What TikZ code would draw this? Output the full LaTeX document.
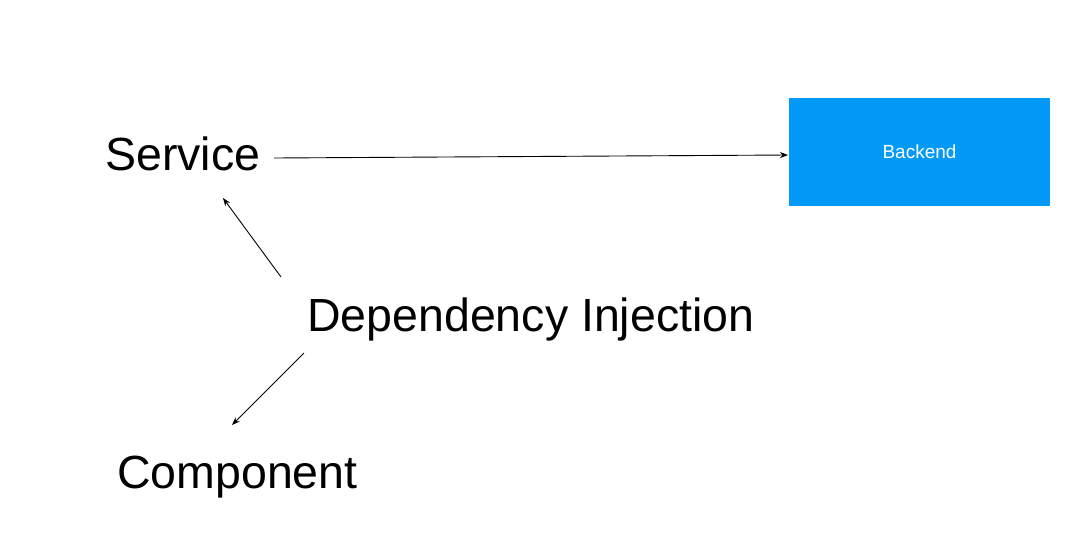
\documentclass[tikz,border=0pt]{standalone}
\usepackage{fontspec}
\setmainfont{Liberation Sans}
\usetikzlibrary{arrows.meta}
\definecolor{boxblue}{HTML}{0399F6}
\begin{document}
\begin{tikzpicture}[x=1pt,y=-1pt,
  big/.style={anchor=base west,inner sep=0pt,font=\fontsize{46.5}{50}\selectfont},
  arr/.style={draw=black,line width=0.9pt,-{Stealth[length=8pt,width=6pt]}},
  bkbox/.style={fill=boxblue,draw=none,minimum width=261pt,minimum height=108pt,inner sep=0pt,text=white,font=\fontsize{19}{22}\selectfont}]
\useasboundingbox[fill=white] (0,0) rectangle (1082,555);
\node[big] (service) at (105,170) {Service};
\node[big] (di) at (307,331) {Dependency Injection};
\node[big] (component) at (117,488) {Component};
\node[bkbox] (backend) at (919.5,152) {Backend};
\coordinate (sOut) at (274,158);
\coordinate (bIn) at (788,155);
\coordinate (diUp) at (281,277);
\coordinate (sIn) at (223,198);
\coordinate (diDown) at (304,353);
\coordinate (cIn) at (232,425);
\draw[arr] (sOut) -- (bIn);
\draw[arr] (diUp) -- (sIn);
\draw[arr] (diDown) -- (cIn);
\end{tikzpicture}
\end{document}
